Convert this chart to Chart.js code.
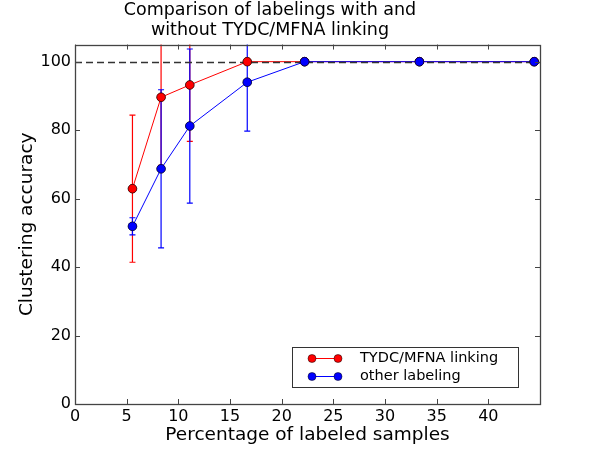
<!DOCTYPE html>
<html>
<head>
<meta charset="utf-8">
<title>Comparison of labelings</title>
<script src="https://cdn.jsdelivr.net/npm/chart.js@4.4.1/dist/chart.umd.min.js"></script>
<style>
  html, body { margin: 0; padding: 0; background: #ffffff; }
  #wrap { width: 600px; height: 450px; }
</style>
</head>
<body>
<div id="wrap"><canvas id="accuracyChart" width="600" height="450"></canvas></div>
<script>
(function() {
    'use strict';

    // Percentage of labeled samples
    var samplePercent = [5.56, 8.33, 11.11, 16.67, 22.22, 33.33, 44.44];

    // TYDC/MFNA linking
    var linkingAccuracy = [62.9, 89.6, 93.2, 100, 100, 100, 100];
    var linkingError = [21.5, 19.9, 16.5, 0, 0, 0, 0];

    // other labeling
    var otherAccuracy = [51.9, 68.7, 81.2, 94.0, 100, 100, 100];
    var otherError = [2.5, 23.1, 22.5, 14.3, 0, 0, 0];

    var xTicks = [0, 5, 10, 15, 20, 25, 30, 35, 40];
    var yTicks = [0, 20, 40, 60, 80, 100];
    var referenceLevel = 100;

    var FONT = "'DejaVu Sans', sans-serif";

    function points(xs, ys) {
        return xs.map(function(x, i) { return { x: x, y: ys[i] }; });
    }

    /**
     * Error bars, inward ticks, dashed reference line, frame and legend
     */
    var decorations = {
        id: 'decorations',
        beforeDatasetsDraw: function(chart) {
            var ctx = chart.ctx;
            var xs = chart.scales.x, ys = chart.scales.y;
            var area = chart.chartArea;
            ctx.save();
            ctx.beginPath();
            ctx.rect(area.left, area.top, area.right - area.left, area.bottom - area.top);
            ctx.clip();
            chart.data.datasets.forEach(function(ds) {
                if (!ds.errors) return;
                ctx.strokeStyle = ds.borderColor;
                ctx.lineWidth = 1.2;
                ds.data.forEach(function(p, i) {
                    var err = ds.errors[i];
                    if (!err) return;
                    var px = xs.getPixelForValue(p.x);
                    var top = ys.getPixelForValue(p.y + err);
                    var bot = ys.getPixelForValue(p.y - err);
                    ctx.beginPath();
                    ctx.moveTo(px, top);
                    ctx.lineTo(px, bot);
                    ctx.moveTo(px - 3, top);
                    ctx.lineTo(px + 3, top);
                    ctx.moveTo(px - 3, bot);
                    ctx.lineTo(px + 3, bot);
                    ctx.stroke();
                });
            });
            ctx.restore();
        },
        afterDatasetsDraw: function(chart) {
            var ctx = chart.ctx;
            var xs = chart.scales.x, ys = chart.scales.y;
            var area = chart.chartArea;

            // dashed reference line
            var ry = Math.round(ys.getPixelForValue(referenceLevel)) + 0.5;
            ctx.save();
            ctx.strokeStyle = '#333333';
            ctx.lineWidth = 1.4;
            ctx.setLineDash([7, 4]);
            ctx.beginPath();
            ctx.moveTo(area.left, ry);
            ctx.lineTo(area.right, ry);
            ctx.stroke();
            ctx.restore();

            // redraw markers above the dashed line
            chart.getSortedVisibleDatasetMetas().slice().reverse().forEach(function(meta) {
                meta.data.forEach(function(pt) { pt.draw(ctx, area); });
            });

            // frame
            ctx.save();
            ctx.strokeStyle = '#444444';
            ctx.lineWidth = 1.3;
            ctx.strokeRect(Math.round(area.left) + 0.5, Math.round(area.top) + 0.5,
                Math.round(area.right - area.left), Math.round(area.bottom - area.top));

            // inward ticks on all four sides
            ctx.lineWidth = 1;
            ctx.beginPath();
            xTicks.forEach(function(v) {
                var px = Math.round(xs.getPixelForValue(v)) + 0.5;
                ctx.moveTo(px, area.bottom);
                ctx.lineTo(px, area.bottom - 5);
                ctx.moveTo(px, area.top);
                ctx.lineTo(px, area.top + 5);
            });
            yTicks.forEach(function(v) {
                var py = Math.round(ys.getPixelForValue(v)) + 0.5;
                ctx.moveTo(area.left, py);
                ctx.lineTo(area.left + 5, py);
                ctx.moveTo(area.right, py);
                ctx.lineTo(area.right - 5, py);
            });
            ctx.stroke();

            // legend box
            var bx = 292.5, by = 347.5, bw = 226, bh = 40;
            ctx.fillStyle = '#ffffff';
            ctx.fillRect(bx, by, bw, bh);
            ctx.strokeStyle = '#333333';
            ctx.lineWidth = 1;
            ctx.strokeRect(bx, by, bw, bh);
            ctx.font = '14.5px ' + FONT;
            ctx.textBaseline = 'middle';
            ctx.textAlign = 'left';
            chart.data.datasets.forEach(function(ds, i) {
                if (!ds.label) return;
                var ly = 358.5 + i * 18;
                ctx.strokeStyle = ds.borderColor;
                ctx.lineWidth = 1;
                ctx.beginPath();
                ctx.moveTo(312, ly);
                ctx.lineTo(338, ly);
                ctx.stroke();
                [312, 338].forEach(function(mx) {
                    ctx.beginPath();
                    ctx.arc(mx, ly, 4, 0, Math.PI * 2);
                    ctx.fillStyle = ds.pointBackgroundColor;
                    ctx.fill();
                    ctx.strokeStyle = '#000000';
                    ctx.lineWidth = 0.5;
                    ctx.stroke();
                });
                ctx.fillStyle = '#000000';
                ctx.fillText(ds.label, 360, ly);
            });
            ctx.restore();
        }
    };

    var ctx = document.getElementById('accuracyChart').getContext('2d');

    new Chart(ctx, {
        type: 'scatter',
        data: {
            datasets: [{
                label: 'TYDC/MFNA linking',
                data: points(samplePercent, linkingAccuracy),
                errors: linkingError,
                showLine: true,
                borderColor: '#ff0000',
                borderWidth: 1,
                pointBackgroundColor: '#ff0000',
                pointBorderColor: '#000000',
                pointBorderWidth: 0.5,
                pointRadius: 4.3,
                order: 1
            }, {
                label: 'other labeling',
                data: points(samplePercent, otherAccuracy),
                errors: otherError,
                showLine: true,
                borderColor: '#0000ff',
                borderWidth: 1,
                pointBackgroundColor: '#0000ff',
                pointBorderColor: '#000000',
                pointBorderWidth: 0.5,
                pointRadius: 4.3,
                order: 0
            }]
        },
        options: {
            responsive: false,
            animation: false,
            layout: {
                padding: { left: 0, right: 60, top: 0, bottom: 0 }
            },
            scales: {
                x: {
                    type: 'linear',
                    min: 0,
                    max: 45,
                    afterBuildTicks: function(scale) {
                        scale.ticks = xTicks.map(function(v) { return { value: v }; });
                    },
                    afterFit: function(scale) { scale.height = 46; },
                    grid: { display: false, drawTicks: false },
                    border: { display: false },
                    ticks: {
                        color: '#000000',
                        padding: 3,
                        maxRotation: 0,
                        font: { family: FONT, size: 16 }
                    },
                    title: {
                        display: true,
                        text: 'Percentage of labeled samples',
                        color: '#000000',
                        padding: { top: 0, bottom: 4 },
                        font: { family: FONT, size: 18.5 }
                    }
                },
                y: {
                    type: 'linear',
                    min: 0,
                    max: 105,
                    afterBuildTicks: function(scale) {
                        scale.ticks = yTicks.map(function(v) { return { value: v }; });
                    },
                    afterFit: function(scale) { scale.width = 75; },
                    grid: { display: false, drawTicks: false },
                    border: { display: false },
                    ticks: {
                        color: '#000000',
                        padding: 4,
                        font: { family: FONT, size: 16 }
                    },
                    title: {
                        display: true,
                        text: 'Clustering accuracy',
                        color: '#000000',
                        padding: { top: 16, bottom: 0 },
                        font: { family: FONT, size: 18.5 }
                    }
                }
            },
            plugins: {
                legend: { display: false },
                tooltip: { enabled: false },
                title: {
                    display: true,
                    text: ['Comparison of labelings with and', 'without TYDC/MFNA linking'],
                    color: '#000000',
                    padding: { top: 1, bottom: 4 },
                    font: { family: FONT, size: 17.5, weight: 'normal', lineHeight: 1.13 }
                }
            }
        },
        plugins: [decorations]
    });

})();
</script>
</body>
</html>
